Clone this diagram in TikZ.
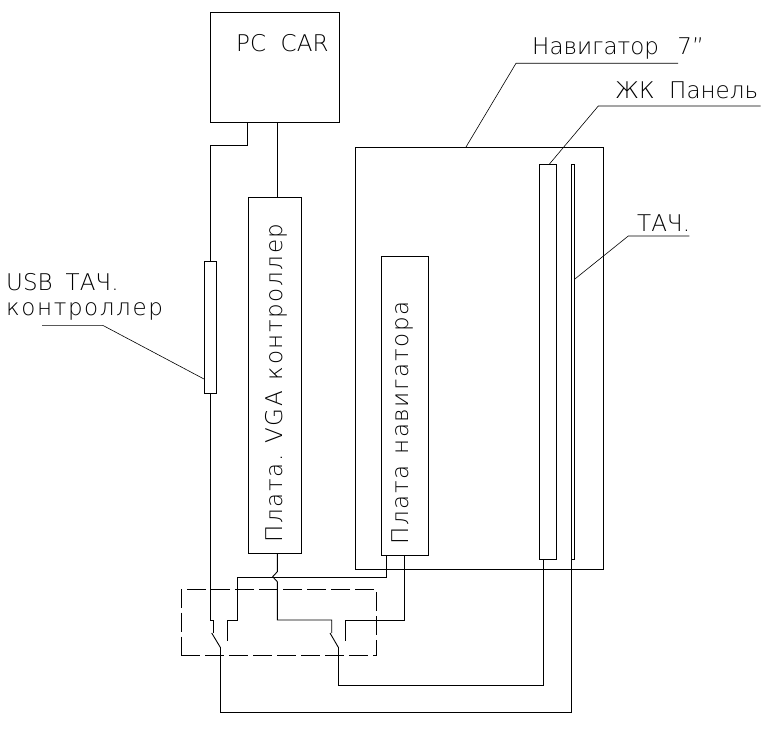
\documentclass[tikz,border=0pt]{standalone}
\usepackage{fontspec}
\setmainfont{DejaVu Sans ExtraLight}
\usetikzlibrary{positioning}

\begin{document}
\begin{tikzpicture}[
    x = 1pt,
    y = -1pt,
    block/.style =
    { draw,
      line width   = 0.9pt,
      inner sep    = 0pt,
      outer sep    = 0pt },
    wire/.style =
    { line width = 0.9pt },
    leader/.style =
    { line width = 0.6pt },
    caption/.style =
    { inner sep = 0pt,
      anchor    = base west,
      font      = \fontsize{23}{25}\selectfont },
    widecaption/.style =
    { caption,
      font = \fontsize{23}{25}\selectfont\addfontfeature{LetterSpace=7} },
    vcaption/.style =
    { widecaption,
      rotate = 90 }
  ]
  \useasboundingbox (0,0) rectangle (773,730);

  \node[block, minimum width = 129pt, minimum height = 110.5pt] (pc) at (275,67.7) {};
  \node[block, minimum width = 11.5pt, minimum height = 132pt] (usb) at (210.3,327) {};
  \node[block, minimum width = 53pt, minimum height = 356.5pt] (vga) at (274.7,375.2) {};
  \node[block, minimum width = 247.5pt, minimum height = 422pt] (nav) at (479.3,358) {};
  \node[block, minimum width = 47pt, minimum height = 299pt] (navboard) at (405,405.5) {};
  \node[block, minimum width = 17pt, minimum height = 395pt] (lcd) at (548,361.7) {};
  \node[block, minimum width = 3.2pt, minimum height = 395pt] (touch) at (572.9,361.7) {};
  \node[block, dash pattern = on 19pt off 5pt, minimum width = 195.4pt, minimum height = 66pt] (sw) at (279,622.3) {};

  \node[caption] (pclabel) at (236,52) {PC\ \ CAR};
  \node[caption] (usblabel) at (6,290) {USB\hspace{13pt}ТАЧ.};
  \node[widecaption] (ctrllabel) at (6,315) {контроллер};
  \node[caption] (navlabel) at (532,55) {Навигатор\ \ \,7"};
  \node[caption] (lcdlabel) at (615,99) {ЖК\ \ Панель};
  \node[caption] (touchlabel) at (637,231) {ТАЧ.};
  \node[vcaption] (vgalabel) at (282.3,543) {Плата.\hspace{11pt}VGA\hspace{11pt}контроллер};
  \node[vcaption] (boardlabel) at (408,545) {Плата\hspace{11pt}навигатора};

  % switch contacts
  \coordinate (sw1a) at (213.3,633);
  \coordinate (sw1b) at (227.3,640.7);
  \coordinate (sw1c) at (220.3,647.3);
  \coordinate (sw2a) at (331.7,633);
  \coordinate (sw2b) at (345.3,640.7);
  \coordinate (sw2c) at (338.3,647.3);

  \draw[wire] (pc.south -| 247.5,0) |- (210.3,145) -- (usb.north);
  \draw[wire] (usb.south) -- (210.3,620) -| (sw1a);
  \draw[wire] (pc.south -| 277.5,0) -- (vga.north -| 277.5,0);
  \draw[wire] (vga.south -| 277.3,0) -- (277.3,571.7) -- (272.7,576.7) -- (277.3,581.7)
    -- (277.3,620) -| (sw2a);
  \draw[wire] (sw1b) -- (227.3,620) -- (237.3,620) -- (237.3,577.3) -| (navboard.south -| 386.7,0);
  \draw[wire] (sw2b) -- (345.3,620) -| (navboard.south -| 404.3,0);
  \draw[wire] (sw1c) -- (220.3,712) -| (touch.south -| 571.3,0);
  \draw[wire] (sw2c) -- (338.3,685) -| (lcd.south -| 543.7,0);
  \draw[wire] (sw1a -| 211.7,0) -- (sw1c);
  \draw[wire] (sw2a -| 330,0) -- (sw2c);

  \draw[leader] (nav.north -| 466,0) -- (516,63.3) -- (678,63.3);
  \draw[leader] (lcd.north -| 549.3,0) -- (598.3,106) -- (760.7,106);
  \draw[leader] (touch.east |- 0,279.3) -- (628.3,236) -- (689.3,236);
  \draw[leader] (usb.west |- 0,379.3) -- (102.7,325.3) -- (42,325.3);
\end{tikzpicture}
\end{document}
